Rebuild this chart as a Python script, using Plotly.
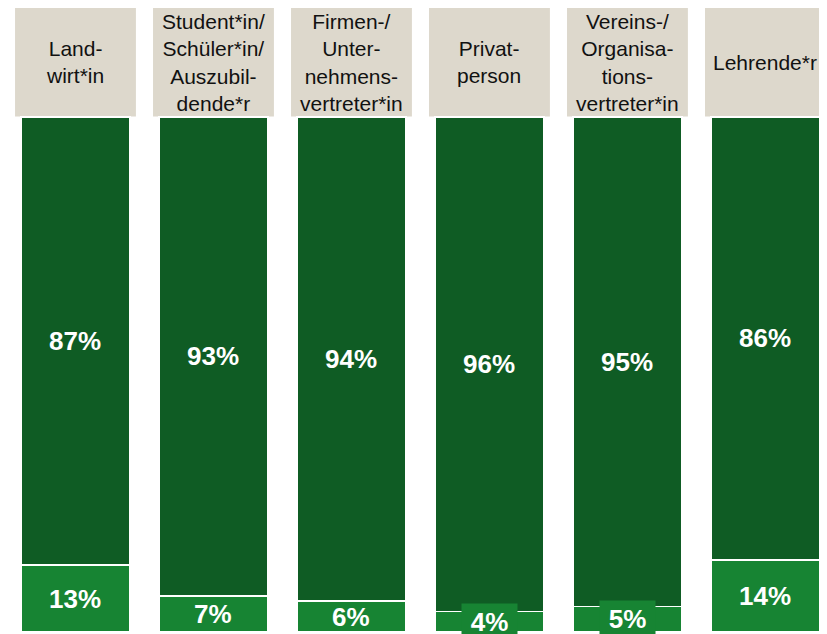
import plotly.graph_objects as go

categories = ["Landwirt*in", "Student*in/Schüler*in/Auszubildende*r", "Firmen-/Unternehmensvertreter*in",
              "Privatperson", "Vereins-/Organisationsvertreter*in", "Lehrende*r"]
header_labels = ["Land-<br>wirt*in",
                 "Student*in/<br>Schüler*in/<br>Auszubil-<br>dende*r",
                 "Firmen-/<br>Unter-<br>nehmens-<br>vertreter*in",
                 "Privat-<br>person",
                 "Vereins-/<br>Organisa-<br>tions-<br>vertreter*in",
                 "Lehrende*r"]
top_values = [87, 93, 94, 96, 95, 86]
bottom_values = [13, 7, 6, 4, 5, 14]

DARK = "#0f5c24"
BRIGHT = "#178433"
BEIGE = "#ddd8cc"
FONT = "Liberation Sans, Arial, sans-serif"

Y_TOP = 121.17

fig = go.Figure()
fig.add_trace(go.Bar(x=categories, y=bottom_values, width=0.79, marker=dict(color=BRIGHT, line=dict(color="white", width=1.5)),
                     hoverinfo="skip"))
fig.add_trace(go.Bar(x=categories, y=top_values, width=0.79, marker=dict(color=DARK, line=dict(color="white", width=1.5)),
                     hoverinfo="skip"))

annotations = []
shapes = []
for i, cat in enumerate(categories):
    b = bottom_values[i]
    t = top_values[i]
    # header box
    shapes.append(dict(type="rect", xref="x", yref="y", x0=i - 0.438, x1=i + 0.438, y0=100.1, y1=Y_TOP,
                       fillcolor=BEIGE, line=dict(width=0), layer="below"))
    annotations.append(dict(x=cat, y=110.6, xref="x", yref="y", text=header_labels[i], showarrow=False,
                            font=dict(family=FONT, size=21, color="#111111"), align="center",
                            xanchor="center", yanchor="middle"))
    # top label
    annotations.append(dict(x=cat, y=b + t / 2, xref="x", yref="y", text=f"<b>{t}%</b>", showarrow=False,
                            font=dict(family=FONT, size=26, color="white"), xanchor="center", yanchor="middle"))
    # bottom label
    small = b <= 5
    annotations.append(dict(x=cat, y=b / 2, xref="x", yref="y", text=f"<b>{b}%</b>", showarrow=False,
                            font=dict(family=FONT, size=26, color="white"), xanchor="center", yanchor="middle",
                            bgcolor=BRIGHT if small else "rgba(0,0,0,0)", width=55 if small else None,
                            height=36 if small else None, borderpad=0))

fig.update_layout(
    barmode="stack",
    width=819, height=626,
    margin=dict(l=0, r=0, t=0, b=0),
    paper_bgcolor="white", plot_bgcolor="white",
    showlegend=False,
    xaxis=dict(range=[-0.489, 5.446], showticklabels=False, showgrid=False, zeroline=False, showline=False,
               fixedrange=True),
    yaxis=dict(range=[-0.388, Y_TOP], showticklabels=False, showgrid=False, zeroline=False, showline=False,
               fixedrange=True),
    shapes=shapes,
    annotations=annotations,
)

fig.write_html("out.html")
